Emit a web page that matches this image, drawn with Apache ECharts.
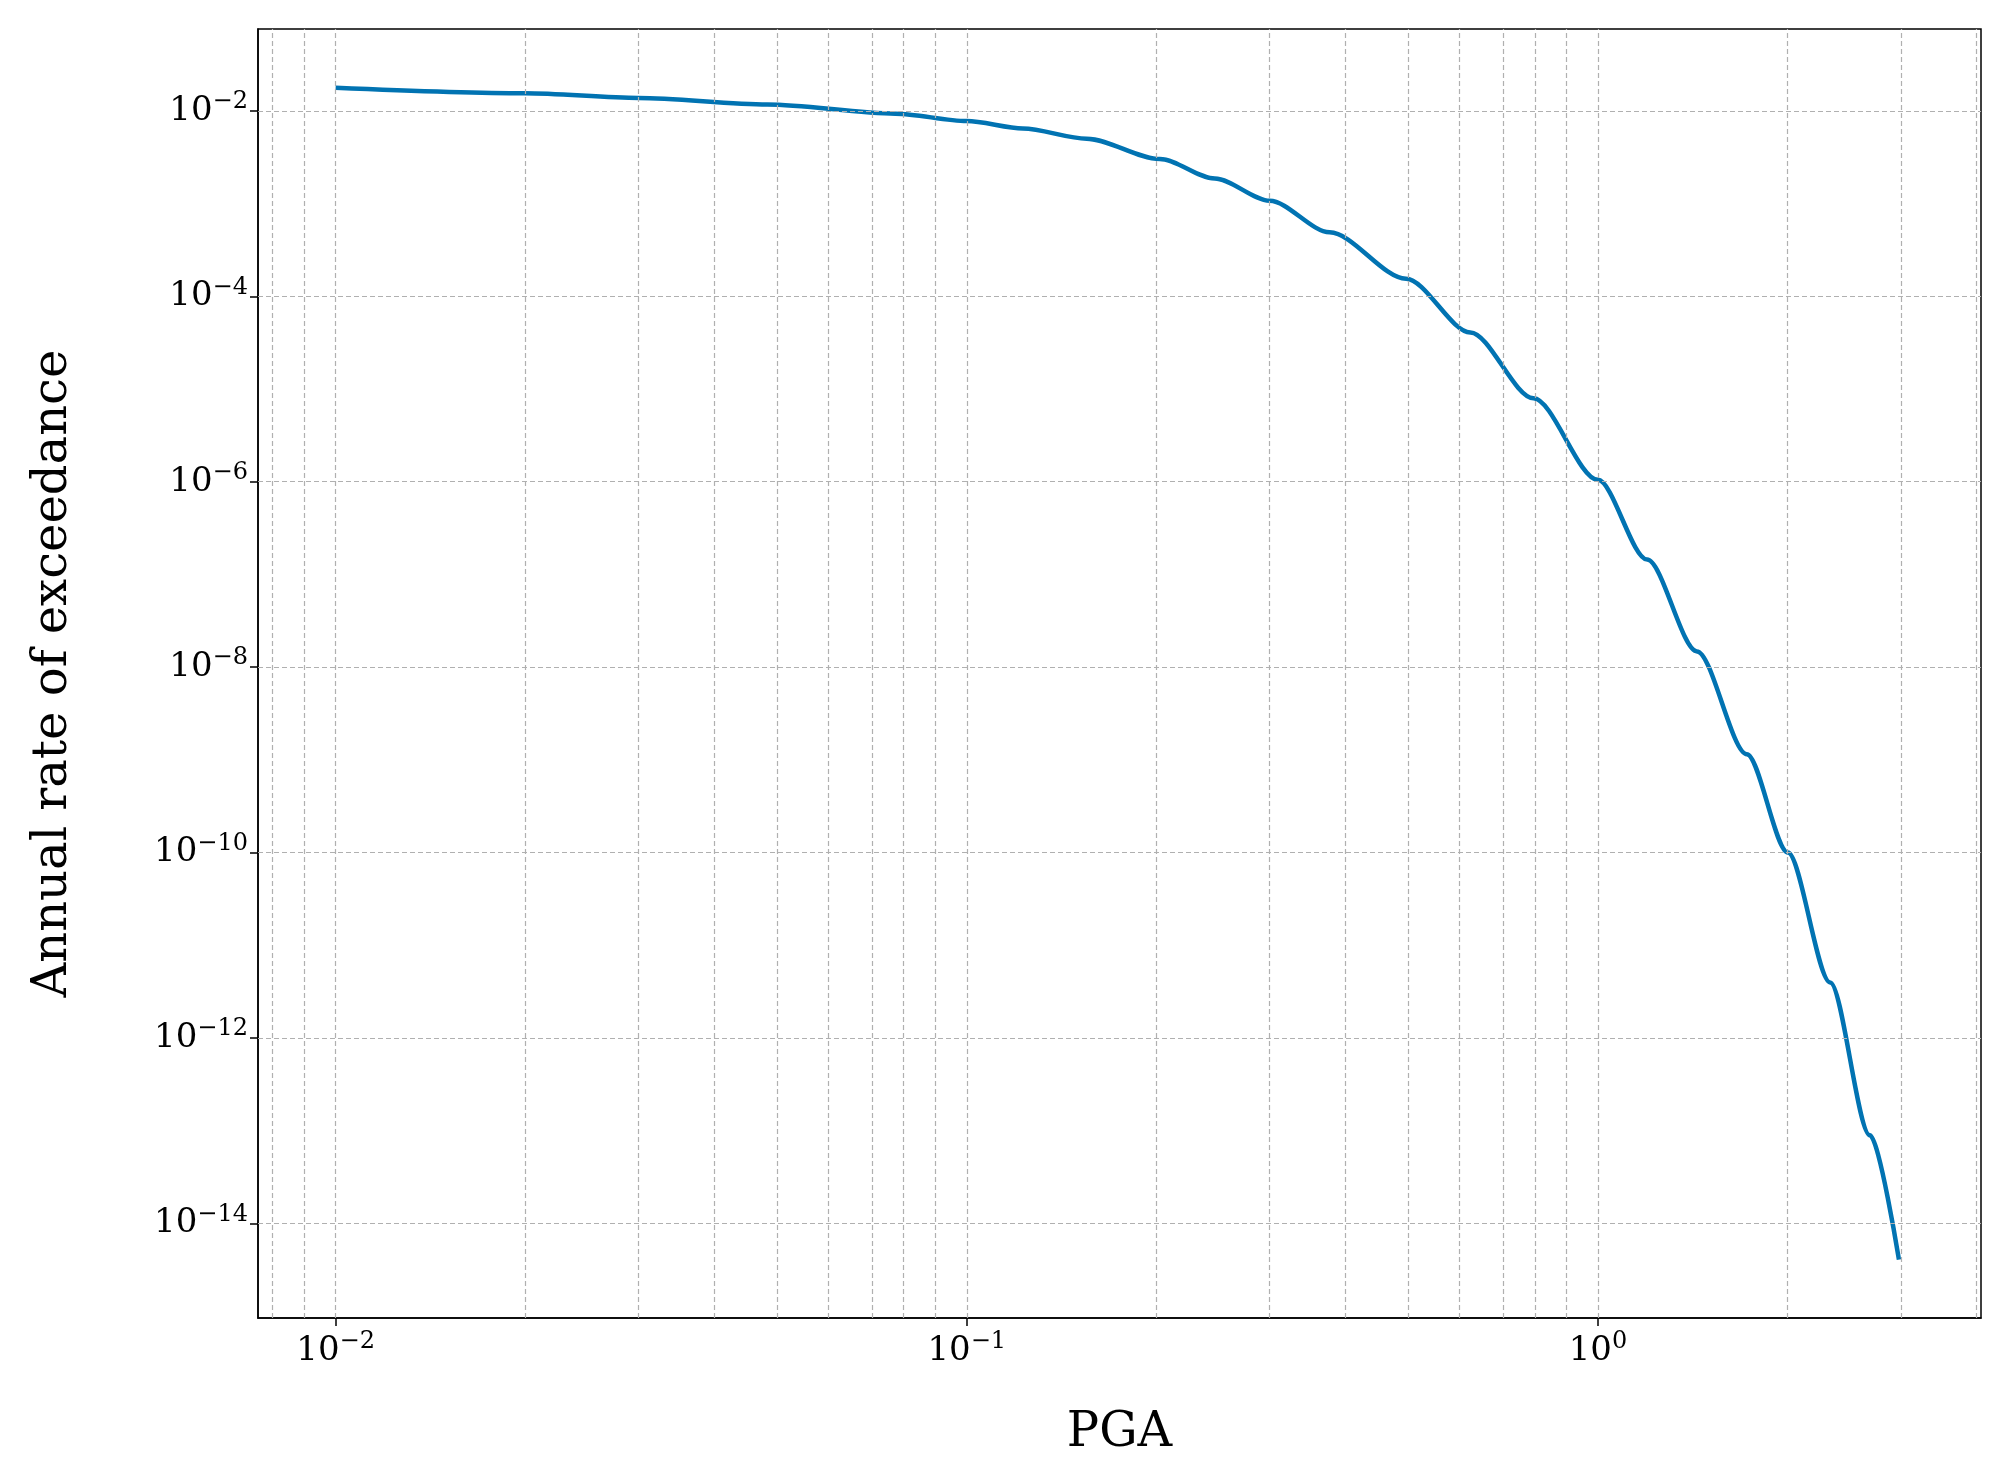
<!DOCTYPE html>
<html><head><meta charset="utf-8">
<script src="https://cdn.jsdelivr.net/npm/echarts@6/dist/echarts.min.js"></script>
<style>html,body{margin:0;background:#fff}#main{width:2004px;height:1477px}</style>
</head><body><div id="main"></div>
<script>
// hazard curve, as log10(PGA) and log10(rate)
var logPga = [-2, -1.7, -1.52, -1.316, -1.113, -1, -0.911, -0.81, -0.694, -0.607, -0.52, -0.425, -0.304, -0.202, -0.102, 0, 0.078, 0.157, 0.236, 0.301, 0.368, 0.431, 0.477];
var logRate = [-1.75, -1.81, -1.86, -1.93, -2.03, -2.11, -2.19, -2.30, -2.52, -2.73, -2.97, -3.31, -3.81, -4.39, -5.10, -5.98, -6.84, -7.83, -8.94, -10.0, -11.4, -13.05, -14.39];
var xDecades = [-2, -1, 0];
var yDecades = [-14, -12, -10, -8, -6, -4, -2];

var L = Math.log10;
var pts = logPga.map(function (x, i) { return [x, logRate[i]]; });

var grid = [];
[-3, -2, -1, 0].forEach(function (d) {
  for (var k = 1; k <= 9; k++) {
    var v = d + L(k);
    if (v > -2.123 && v < 0.607) grid.push({ xAxis: v });
  }
});
yDecades.forEach(function (d) { grid.push({ yAxis: d }); });

function pow(v) { return '10{s|' + (v < 0 ? '\u2212' + (-v) : v) + '}'; }
var font = 'DejaVu Serif';
var lab = { fontFamily: font, fontSize: 34, color: '#000',
  rich: { s: { fontFamily: font, fontSize: 24, padding: [0, 0, 18, 0], color: '#000' } } };

var chart = echarts.init(document.getElementById('main'));
chart.setOption({
  animation: false,
  grid: { left: 258, right: 23, top: 29, bottom: 159, show: true, borderColor: '#000', borderWidth: 1.5 },
  xAxis: {
    type: 'value', min: -2.123, max: 0.607,
    name: 'PGA', nameLocation: 'middle', nameGap: 92,
    nameTextStyle: { fontFamily: font, fontSize: 48, color: '#000' },
    axisLine: { onZero: false, lineStyle: { color: '#000', width: 1.5 } },
    axisTick: { customValues: xDecades, length: 8, lineStyle: { color: '#000', width: 1.5 } },
    axisLabel: Object.assign({ customValues: xDecades, margin: 12, formatter: function (v) { return pow(Math.round(v)); } }, lab),
    splitLine: { show: false }
  },
  yAxis: {
    type: 'value', min: -15.02, max: -1.117,
    name: 'Annual rate of exceedance', nameLocation: 'middle', nameGap: 180,
    nameTextStyle: { fontFamily: font, fontSize: 48, color: '#000' },
    axisLine: { onZero: false, lineStyle: { color: '#000', width: 1.5 } },
    axisTick: { customValues: yDecades, length: 8, lineStyle: { color: '#000', width: 1.5 } },
    axisLabel: Object.assign({ customValues: yDecades, margin: 10, formatter: function (v) { return pow(Math.round(v)); } }, lab),
    splitLine: { show: false }
  },
  series: [{
    type: 'line', data: pts, smooth: 0.3, smoothMonotone: 'x', showSymbol: false,
    lineStyle: { color: '#0173b2', width: 4.5 },
    markLine: { silent: true, symbol: 'none', label: { show: false },
      lineStyle: { color: '#b0b0b0', type: [5, 3], width: 1.2 }, data: grid }
  }]
});
</script></body></html>
